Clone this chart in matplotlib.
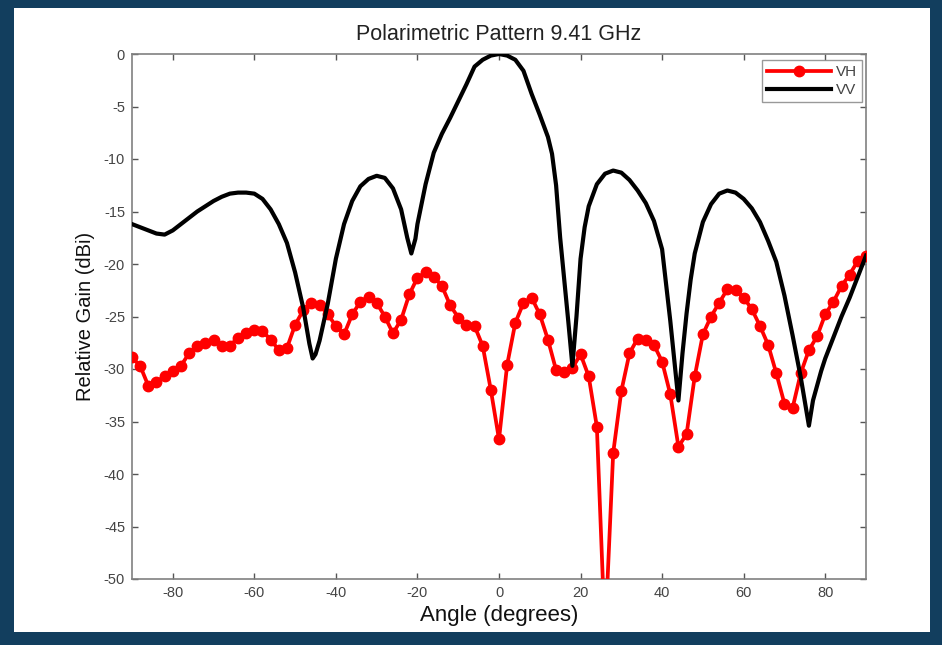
import numpy as np
import matplotlib
matplotlib.use("Agg")
import matplotlib.pyplot as plt
from matplotlib.patches import Rectangle

plt.rcParams['font.family'] = ['Liberation Sans', 'DejaVu Sans']
plt.rcParams['axes.unicode_minus'] = False

# ---- data ----
vh_angle = list(range(-90, 91, 2))
vh_gain = [-28.9, -29.7, -31.6, -31.2, -30.7, -30.2, -29.7, -28.5, -27.8, -27.5,
           -27.2, -27.8, -27.8, -27.0, -26.6, -26.3, -26.4, -27.2, -28.2, -28.0,
           -25.8, -24.4, -23.7, -23.9, -24.8, -25.9, -26.7, -24.8, -23.6, -23.1,
           -23.7, -25.0, -26.6, -25.3, -22.9, -21.3, -20.8, -21.2, -22.1, -23.9,
           -25.1, -25.8, -25.9, -27.8, -32.0, -36.7, -29.6, -25.6, -23.7, -23.2,
           -24.8, -27.2, -30.1, -30.3, -29.9, -28.6, -30.7, -35.5, -55.5, -38.0,
           -32.1, -28.5, -27.1, -27.2, -27.7, -29.3, -32.4, -37.4, -36.2, -30.7,
           -26.7, -25.0, -23.7, -22.4, -22.5, -23.2, -24.3, -25.9, -27.7, -30.4,
           -33.3, -33.7, -30.4, -28.2, -26.9, -24.8, -23.6, -22.1, -21.0, -19.7,
           -19.2]

vv_angle = [-90, -88, -86, -84, -82, -80, -78, -76, -74, -72, -70, -68, -66, -64,
            -62, -60, -58, -56, -54, -52, -50, -48, -46.5, -45.7, -45, -44, -42,
            -40, -38, -36, -34, -32, -30, -28, -26, -24, -22.5, -21.5, -20.5, -20,
            -18, -16, -14, -12, -10, -8, -6, -4, -2, 0, 2, 4, 6, 8, 10, 12, 13,
            14, 15, 16, 17, 18, 19, 20, 21, 22, 24, 26, 28, 30, 32, 34, 36, 38,
            40, 42, 43, 44, 45, 46, 47, 48, 50, 52, 54, 56, 58, 60, 62, 64, 66,
            68, 70, 72, 74, 76, 77, 78, 79, 80, 82, 84, 86, 88, 90]
vv_gain = [-16.2, -16.5, -16.8, -17.1, -17.2, -16.8, -16.2, -15.6, -15.0, -14.5,
           -14.0, -13.6, -13.3, -13.2, -13.2, -13.3, -13.8, -14.8, -16.2, -18.0,
           -20.8, -24.2, -27.6, -29.0, -28.6, -27.3, -23.8, -19.5, -16.2, -14.0,
           -12.6, -11.9, -11.6, -11.8, -12.8, -14.8, -17.5, -19.0, -17.6, -16.2,
           -12.4, -9.4, -7.6, -6.1, -4.5, -2.9, -1.2, -0.55, -0.15, 0.0, -0.15,
           -0.55, -1.6, -3.8, -5.8, -7.9, -9.5, -12.5, -17.5, -21.5, -25.5, -29.7,
           -25.0, -19.5, -16.5, -14.5, -12.4, -11.4, -11.1, -11.3, -12.0, -13.0,
           -14.2, -15.9, -18.6, -25.4, -29.2, -33.0, -28.5, -24.7, -21.5, -19.0,
           -16.0, -14.3, -13.3, -13.0, -13.2, -13.8, -14.7, -16.0, -17.8, -19.8,
           -23.0, -26.8, -30.8, -35.4, -33.0, -31.6, -30.2, -29.0, -27.0, -25.0,
           -23.2, -21.2, -19.2]

x_ticks = [-80, -60, -40, -20, 0, 20, 40, 60, 80]
y_ticks = [0, -5, -10, -15, -20, -25, -30, -35, -40, -45, -50]

# ---- figure ----
fig = plt.figure(figsize=(9.42, 6.45), dpi=100, facecolor='#123e5e')
bg = Rectangle((14 / 942, 13 / 645), (930 - 14) / 942, (637 - 13) / 645,
               transform=fig.transFigure, facecolor='white',
               edgecolor='none', zorder=-10)
fig.add_artist(bg)

ax = fig.add_axes([132 / 942, 1 - 579 / 645, (866 - 132) / 942, (579 - 54) / 645])
ax.set_zorder(1)
ax.set_facecolor('white')

ax.plot(vh_angle, vh_gain, color='#ff0000', lw=2.7, marker='o', ms=7.5,
        label='VH', solid_joinstyle='round', zorder=3)
ax.plot(vv_angle, vv_gain, color='black', lw=3.0, label='VV',
        solid_joinstyle='round', zorder=4)

ax.set_xlim(-90, 90)
ax.set_ylim(-50, 0)
ax.set_xticks(x_ticks)
ax.set_yticks(y_ticks)
ax.tick_params(direction='in', length=4, width=1, colors='#555555',
               labelsize=10.5, top=True, right=True, pad=5)
ax.tick_params(axis='both', labelcolor='#444444')
for s in ax.spines.values():
    s.set_color('#808080')
    s.set_linewidth(1.2)

ax.set_title('Polarimetric Pattern 9.41 GHz', fontsize=15.5, color='#222222', pad=10)
ax.set_xlabel('Angle (degrees)', fontsize=16, color='#111111', labelpad=4)
ax.set_ylabel('Relative Gain (dBi)', fontsize=14.5, color='#111111', labelpad=6)

leg = ax.legend(loc='upper right', bbox_to_anchor=(0.995, 0.989), fontsize=11,
                frameon=True, fancybox=False, edgecolor='#808080',
                handlelength=4.2, borderpad=0.35, labelspacing=0.25,
                handletextpad=0.3, borderaxespad=0.0)
leg.get_frame().set_linewidth(1.0)
for t in leg.get_texts():
    t.set_color('#444444')

fig.savefig('out.png', dpi=100, facecolor=fig.get_facecolor())
